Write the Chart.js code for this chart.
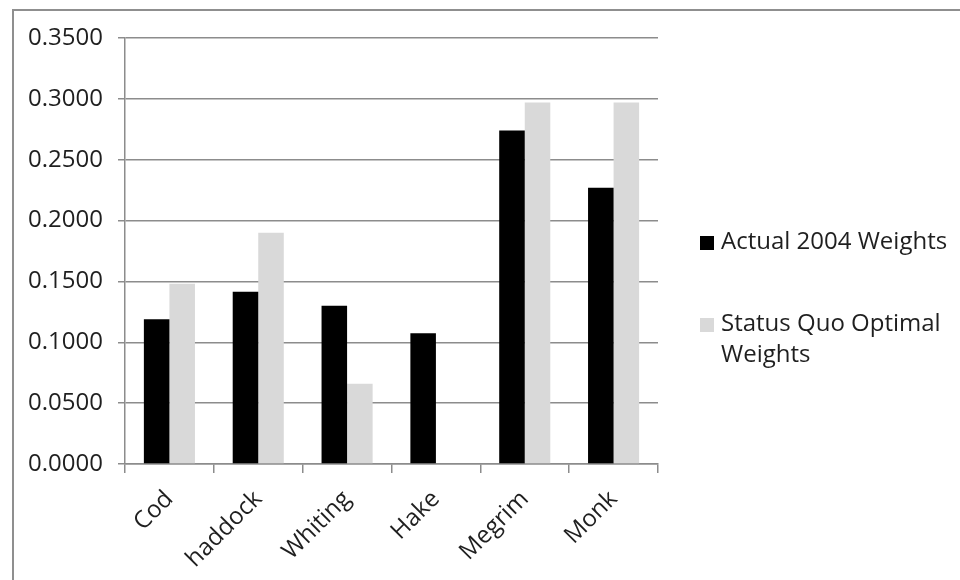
<!DOCTYPE html>
<html>
<head>
<meta charset="utf-8">
<title>Actual vs Status Quo Optimal Weights</title>
<script src="https://cdn.jsdelivr.net/npm/chart.js@4/dist/chart.umd.min.js"></script>
<style>
  html, body { margin: 0; padding: 0; background: #fff; }
  #wrap { position: relative; width: 960px; height: 580px; overflow: hidden; font-family: "Open Sans", sans-serif; }
  #frame { position: absolute; left: 12px; top: 9px; width: 1000px; height: 600px; border-left: 2px solid #8f8f8f; border-top: 2px solid #8f8f8f; }
  #chart { position: absolute; left: 0; top: 0; }
  .legend { position: absolute; left: 700px; font-size: 24px; color: #1f1f1f; line-height: 31px; }
  .legend .sw { position: absolute; left: 0; width: 14px; height: 14px; }
  .legend .txt { position: absolute; left: 21px; white-space: nowrap; }
</style>
</head>
<body>
<div id="wrap">
  <div id="frame"></div>
  <canvas id="chart" width="960" height="580"></canvas>
  <div id="legend"></div>
</div>
<script>
// data
const categories = ['Cod', 'haddock', 'Whiting', 'Hake', 'Megrim', 'Monk'];
const actual2004 = [0.119, 0.1415, 0.130, 0.1075, 0.274, 0.227];
const statusQuo  = [0.148, 0.190, 0.066, 0, 0.297, 0.297];
const seriesNames = ['Actual 2004 Weights', 'Status Quo Optimal Weights'];
const seriesColors = ['#000000', '#d9d9d9'];

const GRID = '#8c8c8c';
const TEXT = '#1f1f1f';

new Chart(document.getElementById('chart'), {
  type: 'bar',
  data: {
    labels: categories,
    datasets: [
      { label: seriesNames[0], data: actual2004, backgroundColor: seriesColors[0], barPercentage: 1, categoryPercentage: 0.575 },
      { label: seriesNames[1], data: statusQuo, backgroundColor: seriesColors[1], barPercentage: 1, categoryPercentage: 0.575 }
    ]
  },
  options: {
    responsive: false,
    animation: false,
    layout: { padding: { left: 0, top: 38, right: 302, bottom: 0 } },
    plugins: { legend: { display: false }, tooltip: { enabled: false } },
    scales: {
      x: {
        afterFit: s => { s.height = 116; },
        grid: { offset: true, drawOnChartArea: false, color: GRID, tickLength: 9, lineWidth: 1.5 },
        border: { color: GRID, width: 1.5 },
        ticks: { color: TEXT, font: { family: 'Open Sans', size: 24 }, minRotation: 45, maxRotation: 45, padding: 12 }
      },
      y: {
        min: 0, max: 0.35,
        afterFit: s => { s.width = 125; },
        grid: { color: GRID, lineWidth: 1.5, tickLength: 7 },
        border: { color: GRID, width: 1.5 },
        ticks: { stepSize: 0.05, color: TEXT, padding: 15, font: { family: 'Open Sans', size: 24 }, callback: v => Number(v).toFixed(4) }
      }
    }
  }
});

// legend drawn as html so the second label can wrap like the original
const legend = document.getElementById('legend');
const legendRows = [
  { top: 224, lines: [seriesNames[0]] },
  { top: 306, lines: ['Status Quo Optimal', 'Weights'] }
];
legendRows.forEach((row, i) => {
  const el = document.createElement('div');
  el.className = 'legend';
  el.style.top = row.top + 'px';
  el.innerHTML = `<span class="sw" style="top:${12}px;background:${seriesColors[i]};"></span>` +
    `<span class="txt">${row.lines.join('<br>')}</span>`;
  legend.appendChild(el);
});
</script>
</body>
</html>
